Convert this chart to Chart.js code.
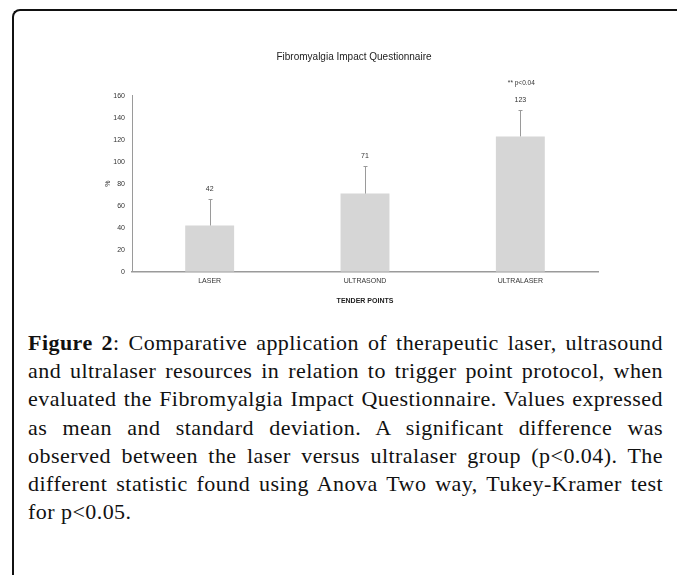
<!DOCTYPE html>
<html>
<head>
<meta charset="utf-8">
<script src="https://cdn.jsdelivr.net/npm/chart.js@4.4.1/dist/chart.umd.min.js"></script>
<style>
  html, body { margin: 0; padding: 0; background: #fff; }
  body { width: 677px; height: 575px; position: relative; overflow: hidden; }
  #frame { position: absolute; left: 12px; top: 9px; width: 720px; height: 620px;
           border-left: 2px solid #111; border-top: 2px solid #111; border-top-left-radius: 8px; }
  #chartBox { position: absolute; left: 0; top: 0; width: 677px; height: 320px; }
  #caption { position: absolute; left: 28px; top: 329px; width: 635px;
             font-family: "Liberation Serif", "Times New Roman", serif; font-size: 22px;
             letter-spacing: 0.45px; line-height: 28.2px; color: #111; }
  #caption .ln { text-align: justify; text-align-last: justify; white-space: nowrap; }
  #caption .ln.last { text-align: left; text-align-last: left; }
</style>
</head>
<body>
<div id="frame"></div>
<div id="chartBox"><canvas id="c" width="677" height="320"></canvas></div>
<div id="caption">
  <div class="ln"><b>Figure 2</b>: Comparative application of therapeutic laser, ultrasound</div>
  <div class="ln">and ultralaser resources in relation to trigger point protocol, when</div>
  <div class="ln">evaluated the Fibromyalgia Impact Questionnaire. Values expressed</div>
  <div class="ln">as mean and standard deviation. A significant difference was</div>
  <div class="ln">observed between the laser versus ultralaser group (p&lt;0.04). The</div>
  <div class="ln">different statistic found using Anova Two way, Tukey-Kramer test</div>
  <div class="ln last">for p&lt;0.05.</div>
</div>
<script>
const categories = ['LASER', 'ULTRASOND', 'ULTRALASER'];
const means = [42, 71, 123];
const sds = [24, 25, 24];
const valueLabels = ['42', '71', '123'];
const significance = ['', '', '** p<0.04'];
const chartTitle = 'Fibromyalgia Impact Questionnaire';
const xTitle = 'TENDER POINTS';
const yTitle = '%';

const textColor = '#333';
const axisColor = '#9a9a9a';

const errorBarPlugin = {
  id: 'errorBars',
  afterDatasetsDraw(chart) {
    const ctx = chart.ctx;
    const meta = chart.getDatasetMeta(0);
    const y = chart.scales.y;
    ctx.save();
    meta.data.forEach((bar, i) => {
      const x = bar.x;
      const yTop = y.getPixelForValue(means[i] + sds[i]);
      const yMean = y.getPixelForValue(means[i]);
      ctx.strokeStyle = axisColor;
      ctx.lineWidth = 1;
      ctx.beginPath();
      ctx.moveTo(Math.round(x) + 0.5, yMean);
      ctx.lineTo(Math.round(x) + 0.5, yTop);
      ctx.moveTo(Math.round(x) - 1.5, Math.round(yTop) + 0.5);
      ctx.lineTo(Math.round(x) + 2.5, Math.round(yTop) + 0.5);
      ctx.stroke();
      ctx.fillStyle = textColor;
      ctx.font = '7px "Liberation Sans", Arial, sans-serif';
      ctx.textAlign = 'center';
      ctx.textBaseline = 'middle';
      const labelY = yTop - 10;
      ctx.fillText(valueLabels[i], x, labelY);
      if (significance[i]) {
        ctx.font = '6.5px "Liberation Sans", Arial, sans-serif';
        ctx.fillText(significance[i], x + 1, labelY - 17);
      }
    });
    ctx.restore();
  }
};

new Chart(document.getElementById('c'), {
  type: 'bar',
  data: {
    labels: categories,
    datasets: [{
      data: means,
      backgroundColor: '#d6d6d6',
      borderWidth: 0,
      categoryPercentage: 1,
      barPercentage: 0.315
    }]
  },
  options: {
    responsive: false,
    animation: false,
    events: [],
    layout: { padding: { left: 110, right: 79, top: 0, bottom: 10.3 } },
    plugins: {
      legend: { display: false },
      tooltip: { enabled: false },
      title: {
        display: true,
        text: chartTitle,
        color: '#222',
        font: { family: '"Liberation Sans", Arial, sans-serif', size: 10, weight: 'normal', lineHeight: 1.2 },
        padding: { top: 51, bottom: 32.7 }
      }
    },
    scales: {
      x: {
        grid: { display: false, drawTicks: false },
        border: { display: true, color: axisColor, width: 1.5 },
        ticks: { color: textColor, padding: 5,
                 font: { family: '"Liberation Sans", Arial, sans-serif', size: 7 } },
        title: { display: true, text: xTitle, color: '#222',
                 font: { family: '"Liberation Sans", Arial, sans-serif', size: 7, weight: 'bold', lineHeight: 1.2 },
                 padding: { top: 4, bottom: 4.6 } },
        afterFit(scale) { scale.height = 38; }
      },
      y: {
        min: 0, max: 160,
        grid: { display: false, drawTicks: false },
        border: { display: true, color: axisColor, width: 1 },
        ticks: { stepSize: 20, color: textColor, padding: 7,
                 font: { family: '"Liberation Sans", Arial, sans-serif', size: 7 } },
        title: { display: true, text: yTitle, color: textColor,
                 font: { family: '"Liberation Sans", Arial, sans-serif', size: 7, lineHeight: 1.2 },
                 padding: { top: -6, bottom: 0 } },
        afterFit(scale) { scale.width = 22; }
      }
    }
  },
  plugins: [errorBarPlugin]
});
</script>
</body>
</html>
